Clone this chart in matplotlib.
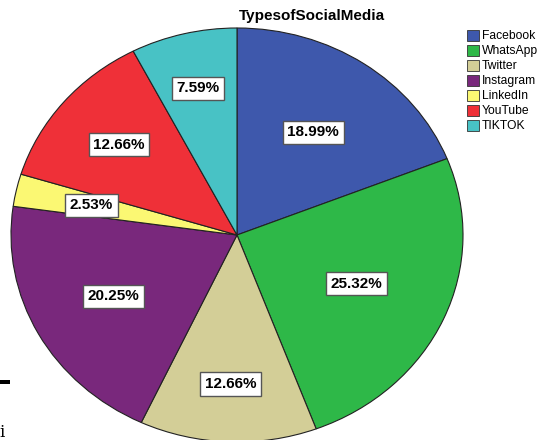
import matplotlib
matplotlib.use('Agg')
import matplotlib.pyplot as plt
from matplotlib.patches import Rectangle
import numpy as np

plt.rcParams['font.family'] = ['Liberation Sans', 'DejaVu Sans']

# Данные
categories = ['Facebook', 'WhatsApp', 'Twitter', 'Instagram', 'LinkedIn', 'YouTube', 'TIKTOK']
counts = [15, 20, 10, 16, 2, 10, 6]
colors = ['#3E58AC', '#2EB848', '#D3CE97', '#79287C', '#FBF873', '#EF3038', '#48C2C5']
title = 'TypesofSocialMedia'

# Расстояние подписей от центра (доля радиуса)
label_dist = [0.60, 0.58, 0.72, 0.62, 0.66, 0.68, 0.73]


def main():
    fig = plt.figure(figsize=(5.47, 4.40), dpi=100)
    # Эллипс: центр (237, 235), полуоси 226 x 207 пикселей
    ax = fig.add_axes([11 / 547, (440 - 442) / 440, 452 / 547, 414 / 440])

    wedges, texts = ax.pie(counts, colors=colors, startangle=90, counterclock=False,
                           wedgeprops=dict(edgecolor='#222222', linewidth=0.8))
    ax.set_aspect('auto')
    ax.set_xlim(-1, 1)
    ax.set_ylim(-1, 1)

    # Подписи процентов в рамках
    total = sum(counts)
    for w, c, r in zip(wedges, counts, label_dist):
        ang = np.deg2rad((w.theta1 + w.theta2) / 2)
        ax.text(r * np.cos(ang), r * np.sin(ang), f'{100 * c / total:.2f}%',
                ha='center', va='center', fontsize=11, fontweight='bold',
                bbox=dict(boxstyle='square,pad=0.3', facecolor='white',
                          edgecolor='#555555', linewidth=1))

    fig.text(312 / 547, 1 - 16 / 440, title, ha='center', va='center',
             fontsize=11, fontweight='bold')

    # Легенда
    for i, (name, col) in enumerate(zip(categories, colors)):
        y = 36 + i * 15
        fig.patches.append(Rectangle((467 / 547, 1 - (y + 5) / 440), 12 / 547, 11 / 440,
                                     transform=fig.transFigure, facecolor=col,
                                     edgecolor='#333333', linewidth=0.6))
        fig.text(482 / 547, 1 - y / 440, name, ha='left', va='center', fontsize=8.7)

    # Артефакты скриншота
    fig.patches.append(Rectangle((0, 1 - 384 / 440), 10 / 547, 4 / 440,
                                 transform=fig.transFigure, facecolor='black'))
    fig.text(-1 / 547, 1 - 432 / 440, 'i', ha='left', va='center', fontsize=12,
             family='DejaVu Serif')

    fig.savefig('out.png', dpi=100)


if __name__ == '__main__':
    main()
